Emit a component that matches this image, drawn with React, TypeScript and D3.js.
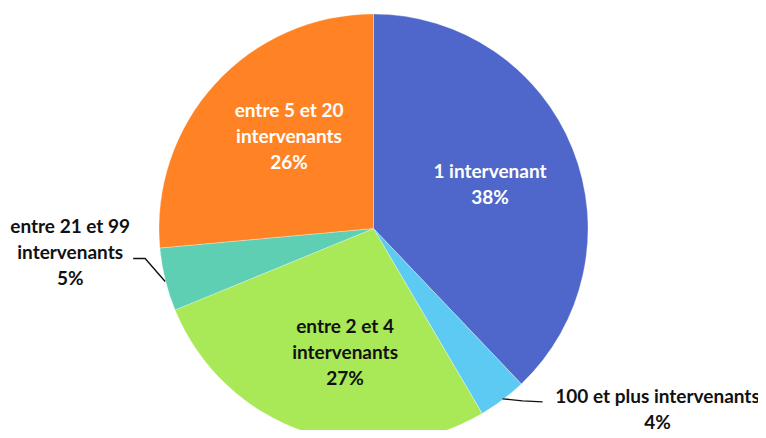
import { useEffect, useRef } from 'react';
import * as d3 from 'd3';

const categories = [
  '1 intervenant',
  '100 et plus intervenants',
  'entre 2 et 4 intervenants',
  'entre 21 et 99 intervenants',
  'entre 5 et 20 intervenants',
];
const shares = [37.9, 3.65, 27.25, 4.75, 26.45];
const labelLines = [
  ['1 intervenant', '38%'],
  ['100 et plus intervenants', '4%'],
  ['entre 2 et 4', 'intervenants', '27%'],
  ['entre 21 et 99', 'intervenants', '5%'],
  ['entre 5 et 20', 'intervenants', '26%'],
];
const colors = ['#4F67CA', '#5CCAF2', '#A9E856', '#5FCFB3', '#FF8324'];
const textColors = ['#ffffff', '#111111', '#111111', '#111111', '#ffffff'];

const App = () => {
  const ref = useRef<SVGSVGElement | null>(null);

  useEffect(() => {
    if (!ref.current) return;
    const svg = d3.select(ref.current);
    svg.selectAll('*').remove();

    const cx = 373.5;
    const cy = 228.5;
    const r = 214.5;
    const lineH = 26;

    const pie = d3.pie<number>().sort(null).value(d => d);
    const arcs = pie(shares);
    const arc = d3.arc<d3.PieArcDatum<number>>().innerRadius(0).outerRadius(r);
    const labelArc = d3.arc<d3.PieArcDatum<number>>().innerRadius(r * 0.59).outerRadius(r * 0.59);
    const edgeArc = d3.arc<d3.PieArcDatum<number>>().innerRadius(r).outerRadius(r);

    const g = svg.append('g').attr('transform', `translate(${cx},${cy})`);

    g.selectAll('path.slice')
      .data(arcs)
      .enter()
      .append('path')
      .attr('class', 'slice')
      .attr('d', arc)
      .attr('fill', (_, i) => colors[i])
      .attr('stroke', 'rgba(255,255,255,0.5)')
      .attr('stroke-width', 0.6);

    // small nudges so labels sit where the original best-fit put them
    const insideNudge: Record<number, [number, number]> = {
      0: [-1, 3],
      2: [12, 4],
      4: [9, -7],
    };

    const outside: Record<number, { dx: number; dy: number; leader: (p: [number, number]) => [number, number][] }> = {
      1: {
        dx: 155, dy: 10,
        leader: ([x, y]) => [[x, y - 1], [x + 20, y + 1], [x + 40, y + 2]],
      },
      3: {
        dx: -95, dy: -27,
        leader: ([x, y]) => [[x, y + 2], [x - 20, y - 21], [x - 32, y - 21]],
      },
    };

    arcs.forEach((a, i) => {
      const lines = labelLines[i];
      let tx: number;
      let ty: number;
      if (outside[i]) {
        const [ex, ey] = edgeArc.centroid(a);
        tx = ex + outside[i].dx;
        ty = ey + outside[i].dy;
        g.append('path')
          .attr('d', d3.line().curve(d3.curveLinear)(outside[i].leader([ex, ey])) || '')
          .attr('fill', 'none')
          .attr('stroke', '#111111')
          .attr('stroke-width', 1.4);
      } else {
        [tx, ty] = labelArc.centroid(a);
        const n = insideNudge[i] || [0, 0];
        tx += n[0];
        ty += n[1];
      }
      const text = g.append('text')
        .attr('text-anchor', 'middle')
        .attr('font-family', 'Lato, "Open Sans", sans-serif')
        .attr('font-weight', 'bold')
        .attr('font-size', 19)
        .attr('fill', textColors[i]);
      lines.forEach((l, j) => {
        text.append('tspan')
          .attr('x', tx)
          .attr('y', ty + (j - (lines.length - 1) / 2) * lineH)
          .attr('dy', '0.35em')
          .text(l);
      });
      text.append('title').text(categories[i]);
    });
  }, []);

  return (
    <div style={{ width: 766, height: 438, margin: -8, overflow: 'hidden', background: '#fff' }}>
      <svg ref={ref} width={766} height={438}></svg>
    </div>
  );
};

export default App;
